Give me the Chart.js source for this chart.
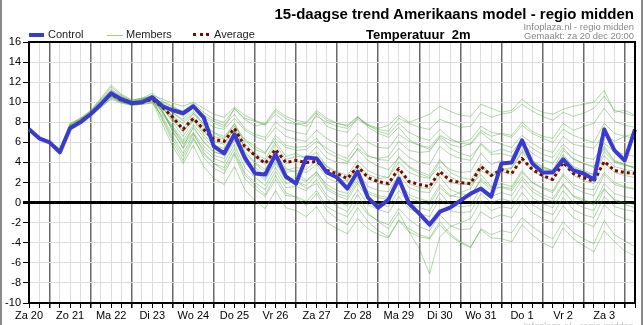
<!DOCTYPE html>
<html>
<head>
<meta charset="utf-8">
<script src="https://cdn.jsdelivr.net/npm/chart.js@4.4.0/dist/chart.umd.min.js"></script>
<style>
body { margin: 0; background: #fff; font-family: "Liberation Sans", Arial, sans-serif; }
#wrap { position: relative; width: 643px; height: 325px; overflow: hidden; background: #fff; }
#wrap canvas { position: absolute; left: 0; top: 0; }
.txt { position: absolute; white-space: nowrap; }
#title { right: 9px; top: 5px; font-size: 15px; font-weight: bold; color: #000; }
#sub { left: 366px; top: 27px; font-size: 13px; font-weight: bold; color: #000; }
#src1 { right: 9px; top: 21px; font-size: 9.4px; color: #888; }
#src2 { right: 9px; top: 30px; font-size: 9.4px; color: #888; }
#mark { right: 9px; top: 320px; font-size: 9.4px; color: #c8c8c8; }
.leg { position: absolute; top: 28px; font-size: 11px; color: #222; }
.sw { position: absolute; }
.edge { position: absolute; top: 0; width: 2px; height: 325px; background: #8a8a8a; }
</style>
</head>
<body>
<div id="wrap">
  <canvas id="chart-area" width="643" height="325"></canvas>
  <div class="edge" style="left:0"></div>
  <div class="edge" style="left:641px"></div>
  <div class="txt" id="title">15-daagse trend Amerikaans model - regio midden</div>
  <div class="txt" id="src1">Infoplaza.nl - regio midden</div>
  <div class="txt" id="src2">Gemaakt: za 20 dec 20:00</div>
  <div class="txt" id="sub">Temperatuur&nbsp; 2m</div>
  <div class="sw" style="left:29px;top:33px;width:15px;height:4px;background:#3a3ad0"></div>
  <div class="leg" style="left:48px">Control</div>
  <div class="sw" style="left:107px;top:35px;width:16px;height:1px;background:#9fd08f"></div>
  <div class="leg" style="left:126px">Members</div>
  <div class="sw" style="left:193px;top:33px;width:16px;height:0;border-top:3px dotted #7a0a00"></div>
  <div class="leg" style="left:214px">Average</div>
  <div class="txt" id="mark">Infoplaza.nl - regio midden</div>
</div>
<script>
var days = ["Za 20", "Zo 21", "Ma 22", "Di 23", "Wo 24", "Do 25", "Vr 26", "Za 27", "Zo 28", "Ma 29", "Di 30", "Wo 31", "Do 1", "Vr 2", "Za 3"];

// 6-hourly values, first point = za 20 12:00
var control = [7.3, 6.4, 6.0, 5.0, 7.4, 8.0, 8.8, 9.8, 10.9, 10.3, 9.9, 10.0, 10.5, 9.6, 9.2, 8.9, 9.6, 8.5, 5.6, 4.9, 6.8, 4.5, 2.9, 2.8, 4.8, 2.6, 1.9, 4.5, 4.4, 3.0, 2.5, 1.4, 3.1, 0.5, -0.5, 0.3, 2.4, -0.1, -1.1, -2.2, -0.9, -0.5, 0.2, 0.9, 1.4, 0.6, 3.9, 4.0, 6.2, 3.9, 3.0, 3.0, 4.3, 3.2, 2.9, 2.3, 7.3, 5.2, 4.2, 7.3];

var average = [7.3, 6.4, 6.0, 5.1, 7.4, 8.1, 8.8, 9.8, 10.8, 10.2, 9.9, 10.0, 10.3, 9.5, 8.5, 7.3, 8.4, 7.3, 6.3, 6.1, 7.4, 5.6, 4.7, 3.9, 5.3, 4.0, 4.2, 4.0, 4.1, 3.2, 2.9, 2.4, 3.6, 2.5, 2.1, 1.9, 3.4, 2.1, 1.8, 1.6, 3.1, 2.2, 2.0, 1.9, 3.6, 2.7, 3.3, 2.9, 4.4, 3.3, 2.7, 2.3, 4.0, 2.9, 2.5, 2.1, 4.1, 3.2, 3.0, 2.9];

var members = [
  [7.3,6.4,6.0,5.2,7.6,8.2,9.0,10.1,11.2,10.5,10.1,10.3,10.7, 10.3,9.9,9.6,10.0, 9.4,8.8,8.5,9.5, 8.7,8.2,7.8,9.1, 8.4,7.9,7.6,8.6, 8.0,7.6,7.4,8.3, 7.7,7.3,7.1,8.4, 7.9,7.5,7.3,8.3, 7.9,7.5,7.6,9.0, 8.5,8.8,9.0,9.8, 9.1,8.6,8.2,9.0, 8.6,8.9,9.4,10.6, 9.2,8.9,8.6],
  [7.3,6.4,6.0,5.3,7.8,8.3,9.1,10.3,11.5,10.7,10.2,10.4,10.5, 9.9,9.2,8.6,9.6, 8.5,7.9,7.5,9.4, 8.3,7.6,7.9,9.3, 8.6,8.2,8.0,9.2, 8.4,7.9,7.6,8.5, 7.8,7.4,7.7,8.7, 8.0,8.4,8.8,9.6, 9.1,8.7,8.6,9.8, 9.4,9.0,9.2,10.3, 9.5,9.0,8.8,9.3, 9.6,9.8,10.0,11.2, 9.0,9.2,8.7],
  [7.3,6.4,6.0,5.1,7.5,8.1,8.8,9.8,10.8,10.2,9.9,10.0,10.3, 9.6,8.9,8.3,9.5, 8.2,7.5,7.3,8.4, 7.2,6.6,6.2,7.5, 6.6,6.3,6.1,7.2, 6.4,5.8,5.6,6.9, 6.0,5.5,5.4,6.8, 6.1,5.7,5.5,6.7, 6.2,6.0,6.3,7.6, 7.0,6.8,6.5,7.7, 6.9,6.4,6.0,7.3, 6.7,6.3,6.0,7.9, 6.9,6.6,6.4],
  [7.3,6.4,6.1,5.4,7.9,8.4,9.2,10.4,11.7,10.8,10.2,10.4,10.9, 10.1,9.6,9.0,9.8, 8.7,8.1,7.7,8.8, 7.4,6.8,6.5,8.0, 7.3,7.0,6.8,8.9, 7.6,7.2,7.0,8.5, 7.7,7.1,6.8,7.9, 7.0,6.5,6.2,7.3, 6.4,5.9,5.8,7.0, 6.2,5.8,5.5,6.7, 5.9,5.3,5.0,6.6, 5.8,5.6,5.4,6.9, 6.1,6.6,6.9],
  [7.3,6.4,6.0,5.2,7.6,8.1,8.7,9.5,10.3,9.9,9.7,9.8,10.0, 9.3,8.6,7.9,8.9, 7.9,7.0,6.6,7.8, 6.3,5.6,5.0,6.4, 5.5,5.2,5.3,6.1, 5.4,4.8,4.4,5.9, 4.7,4.3,4.2,5.4, 4.5,4.0,3.8,5.6, 4.8,4.4,4.2,5.9, 5.0,5.3,5.0,6.3, 5.4,4.8,4.5,5.8, 4.9,4.5,4.3,5.9, 5.1,4.8,4.6],
  [7.3,6.4,5.9,5.0,7.3,8.0,8.6,9.6,10.6,10.1,9.8,9.9,10.2, 9.4,8.2,7.1,8.3, 7.0,6.2,6.0,7.3, 5.5,4.6,3.8,5.2, 3.9,4.1,4.0,4.6, 3.6,3.1,2.7,4.2, 3.2,2.7,2.5,4.0, 3.0,2.6,2.4,4.1, 3.3,3.0,3.1,4.9, 3.8,4.2,3.9,5.3, 4.2,3.6,3.2,4.6, 3.6,3.2,2.8,5.1, 4.0,3.7,3.5],
  [7.3,6.4,6.0,5.1,7.4,8.0,8.8,9.7,10.7,10.2,9.9,10.1,10.4, 9.0,7.6,6.2,7.8, 6.5,5.4,5.1,6.9, 4.9,3.9,3.0,4.6, 3.2,3.5,3.3,4.2, 2.9,2.4,2.1,3.6, 2.4,1.9,1.7,3.2, 1.9,1.5,1.4,3.0, 2.0,1.8,1.9,3.6, 2.7,3.1,2.8,4.4, 3.2,2.6,2.2,3.9, 2.7,2.2,1.9,4.0, 3.0,2.7,2.5],
  [7.3,6.4,6.0,5.2,7.5,8.2,8.9,9.9,10.9,10.3,10.0,10.2,10.6, 9.2,7.0,5.5,7.6, 6.0,5.0,4.8,6.5, 4.0,3.1,2.2,3.9, 2.3,2.5,2.1,3.0, 1.8,1.2,0.9,2.5, 1.1,0.7,0.5,2.1, 0.8,0.4,0.1,1.8, 0.7,0.5,0.6,2.4, 1.5,1.9,1.6,3.2, 2.0,1.4,1.0,2.7, 1.5,1.0,0.7,2.8, 1.8,1.5,1.3],
  [7.3,6.4,6.0,5.0,7.2,8.0,8.6,9.5,10.4,10.0,9.7,9.8,9.9, 8.6,6.6,4.9,6.8, 5.3,4.4,4.0,5.8, 3.5,2.5,1.7,3.5, 1.9,2.1,1.7,2.8, 1.3,0.7,0.3,1.9, 0.4,-0.1,-0.4,1.2, 0.0,-0.5,-0.8,1.0, -0.2,-0.4,-0.3,1.5, 0.6,1.0,0.7,2.3, 1.1,0.5,0.1,1.8, 0.6,0.1,-0.2,1.9, 0.9,0.6,0.4],
  [7.3,6.4,6.0,5.3,7.7,8.2,9.0,10.0,11.1,10.4,10.0,10.1,10.4, 8.2,6.0,4.2,6.3, 4.8,3.9,3.5,5.4, 3.0,2.0,1.3,3.1, 1.5,1.6,1.2,2.3, 0.7,0.1,-0.3,1.3, -0.2,-0.7,-1.0,0.6, -0.6,-1.1,-1.4,0.4, -0.8,-1.0,-0.9,0.9, 0.0,0.4,0.1,1.7, 0.5,-0.1,-0.5,1.2, 0.0,-0.5,-0.8,1.3, 0.3,0.0,-0.2],
  [7.3,6.4,6.0,5.1,7.4,8.1,8.7,9.7,10.6,10.1,9.8,10.0,10.3, 8.8,7.4,5.8,7.0, 5.6,4.7,4.4,6.2, 4.3,3.3,2.4,4.1, 2.5,2.2,1.4,1.9, 0.4,-0.4,-0.9,0.8, -1.0,-1.9,-2.6,-1.0, -2.9,-4.6,-7.1,-3.4, -2.4,-2.0,-1.6,0.2, -0.8,-0.4,-0.6,1.0, -0.2,-0.8,-1.2,0.5, -0.7,-1.2,-1.5,0.6, -0.4,-0.7,-0.9],
  [7.3,6.4,6.0,5.2,7.5,8.1,8.8,9.8,10.8,10.2,9.9,10.0,10.2, 8.4,6.3,4.6,6.5, 4.5,3.4,2.9,4.8, 2.4,1.4,0.6,2.3, 0.7,0.6,0.1,1.2, -0.4,-1.0,-1.4,0.1, -1.2,-1.8,-2.2,-0.6, -1.7,-2.4,-2.8,-1.2, -2.3,-2.7,-2.6,-0.9, -1.6,-1.2,-1.5,0.1, -1.0,-1.6,-2.0,-0.3, -1.5,-2.0,-2.4,-0.2, -1.2,-1.6,-1.9],
  [7.3,6.4,6.0,5.1,7.3,8.0,8.7,9.6,10.5,10.0,9.8,9.9,10.1, 7.8,5.6,3.9,5.7, 3.6,2.4,1.8,3.6, 1.3,0.2,-0.6,1.2, -0.5,-0.8,-1.4,-0.4, -2.0,-2.6,-3.1,-1.6, -2.6,-3.2,-3.5,-1.8, -2.9,-3.4,-3.6,-2.2, -3.3,-4.0,-4.5,-2.6, -3.2,-2.8,-3.0,-1.5, -2.4,-3.1,-3.6,-1.9, -3.0,-3.6,-4.1,-1.8, -3.2,-3.8,-4.4],
  [7.3,6.4,6.0,5.2,7.6,8.2,8.9,9.9,10.9,10.3,10.0,10.2,10.5, 9.0,7.2,5.4,6.9, 5.0,3.9,3.2,5.0, 2.8,1.7,0.8,2.7, 1.0,0.5,-0.3,0.9, -0.8,-1.6,-2.2,-0.5, -1.9,-2.8,-3.4,-1.7, -2.6,-3.2,-3.5,-1.9, -3.1,-3.9,-4.4,-2.7, -3.5,-3.6,-3.9,-2.2, -3.2,-4.0,-4.5,-2.5, -3.6,-4.3,-4.9,-2.8, -3.9,-4.8,-5.3],
  [7.3,6.4,6.0,5.3,7.8,8.4,9.1,10.2,11.3,10.6,10.1,10.3,10.7, 9.8,8.6,7.4,8.9, 7.6,6.6,6.3,7.9, 5.9,4.9,4.3,6.1, 4.6,4.9,4.4,5.0, 3.6,2.8,2.2,3.8, 2.8,2.4,2.5,4.6, 3.6,3.1,2.7,4.3, 3.0,2.5,2.3,3.8, 2.9,3.3,3.5,5.1, 4.1,3.5,3.2,5.2, 4.4,3.9,3.5,5.6, 4.2,3.8,3.4],
  [7.3,6.4,6.0,5.2,7.6,8.2,8.8,9.8,10.7,10.1,9.8,10.0,10.4, 9.7,9.0,8.1,9.1, 7.8,6.9,6.4,7.6, 6.2,5.3,4.9,6.7, 5.7,5.5,5.6,6.4, 5.0,4.5,4.1,5.3, 4.2,3.6,3.3,4.5, 3.5,2.9,2.5,3.6, 2.6,2.0,1.7,2.8, 1.6,1.5,1.2,2.6, 1.4,0.8,0.4,1.9, 0.7,0.3,-0.1,1.4, 0.2,-0.2,-0.5],
  [7.3,6.4,6.0,5.1,7.4,8.1,8.9,9.8,10.8,10.2,9.9,10.1,10.5, 9.5,8.0,6.6,8.2, 6.8,5.7,5.4,7.1, 5.1,4.0,3.3,5.0, 3.4,3.0,2.2,3.1, 1.5,0.9,0.6,2.2, 0.9,0.5,0.3,1.9, 0.5,0.1,-0.2,1.5, 0.6,1.0,1.4,3.2, 2.6,3.2,3.4,5.0, 3.9,3.4,3.1,4.8, 3.5,3.0,2.8,4.7, 3.6,3.3,3.1],
  [7.3,6.4,6.0,5.2,7.7,8.3,9.0,10.0,11.0,10.4,10.0,10.2,10.6, 9.6,8.4,7.0,8.5, 7.2,6.1,5.8,7.4, 5.6,4.6,4.0,5.8, 4.3,4.6,4.5,5.6, 4.4,4.0,3.9,5.4, 4.6,4.4,4.6,6.1, 5.2,5.0,5.1,6.6, 5.8,5.5,5.9,7.2, 6.6,6.9,6.7,8.0, 7.1,6.6,6.4,7.9, 7.2,7.6,7.9,9.4, 8.1,7.7,7.5],
  [7.3,6.4,6.0,5.1,7.4,8.0,8.7,9.7,10.6,10.1,9.8,10.0,10.3, 9.1,7.4,6.0,7.4, 6.1,5.1,4.7,6.4, 4.5,3.5,2.7,4.4, 3.0,3.2,3.0,3.8, 2.5,2.0,1.7,3.1, 1.6,1.2,1.1,2.8, 1.5,1.1,1.0,2.6, 1.3,0.9,0.7,2.2, 1.2,1.6,1.4,3.0, 2.0,1.5,1.2,2.9, 1.8,1.4,1.3,3.0, 2.0,1.6,1.4],
  [7.3,6.4,6.0,5.2,7.5,8.1,8.8,9.9,10.9,10.3,10.0,10.1,10.4, 10.0,9.5,9.1,9.9, 9.0,8.3,8.0,9.3, 8.4,8.1,7.7,8.8, 8.0,7.8,7.9,9.0, 8.2,7.9,7.7,8.6, 7.5,6.9,6.5,7.5, 6.3,5.7,5.3,6.4, 5.4,4.9,4.6,5.8, 4.8,4.9,4.6,6.0, 4.9,4.3,3.9,5.5, 4.3,3.9,3.6,5.4, 4.1,3.8,3.5]
];

// one category per 6 hours, day name at noon
var labels = [];
for (var i = 0; i < control.length; i++) {
  labels.push(i % 4 === 0 ? days[i / 4] : "");
}

var datasets = [
  { label: "Control", data: control, borderColor: "#3a3ad0", borderWidth: 4, order: 0 },
  { label: "Average", data: average, borderColor: "#7a0a00", borderWidth: 3, borderDash: [3, 3], order: 1 }
];
members.forEach(function (m, k) {
  datasets.push({ label: "Member " + (k + 1), data: m, borderColor: "rgba(70,160,50,0.42)", borderWidth: 1, order: 2 });
});

var framePlugin = {
  id: "frame",
  afterDraw: function (chart) {
    var a = chart.chartArea;
    var ctx = chart.ctx;
    ctx.save();
    ctx.strokeStyle = "#000";
    ctx.lineWidth = 2;
    ctx.beginPath();
    ctx.moveTo(a.left, a.top);
    ctx.lineTo(a.right, a.top);
    ctx.lineTo(a.right, a.bottom);
    ctx.stroke();
    ctx.restore();
  }
};

var config = {
  type: "line",
  data: { labels: labels, datasets: datasets },
  options: {
    responsive: false,
    animation: false,
    events: [],
    elements: { point: { radius: 0 }, line: { tension: 0, borderJoinStyle: "round" } },
    layout: { padding: { left: 0, right: 8, top: 42, bottom: 0 } },
    plugins: { legend: { display: false }, title: { display: false }, tooltip: { enabled: false } },
    scales: {
      x: {
        type: "category",
        offset: false,
        afterFit: function (s) { s.height = 22; },
        border: { display: true, color: "#000", width: 2 },
        grid: {
          color: function (c) { return c.index % 4 === 2 ? "#6a6a6a" : "#dcdcdc"; },
          lineWidth: function (c) { return c.index % 4 === 2 ? 1.5 : 1; },
          tickColor: "#000",
          tickLength: 5
        },
        ticks: {
          autoSkip: false,
          maxRotation: 0,
          padding: 1,
          color: "#000",
          font: { family: "'Liberation Sans', Arial, sans-serif", size: 11 }
        }
      },
      y: {
        min: -10,
        max: 16,
        afterFit: function (s) { s.width = 29; },
        border: { display: true, color: "#000", width: 2 },
        grid: {
          color: function (c) { return c.tick && c.tick.value === 0 ? "#000" : "#dcdcdc"; },
          lineWidth: function (c) { return c.tick && c.tick.value === 0 ? 3 : 1; },
          tickColor: "#000",
          tickLength: 6
        },
        ticks: {
          stepSize: 2,
          padding: 2,
          color: "#000",
          font: { family: "'Liberation Sans', Arial, sans-serif", size: 11 }
        }
      }
    }
  },
  plugins: [framePlugin]
};

var ctx = document.getElementById("chart-area").getContext("2d");
window.chart = new Chart(ctx, config);
</script>
</body>
</html>
